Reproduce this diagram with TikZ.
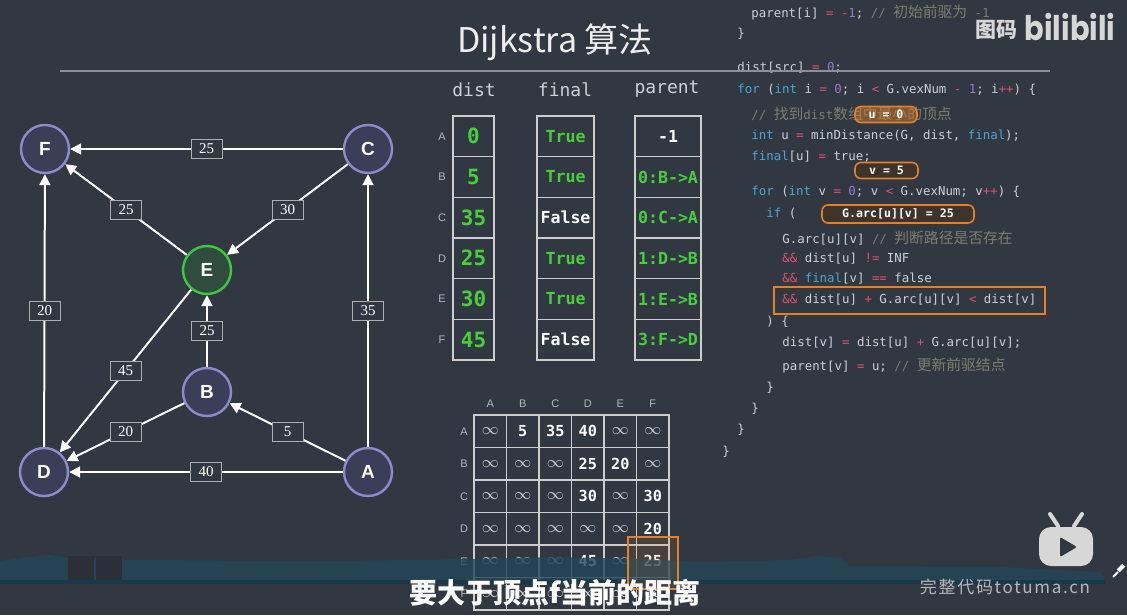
\documentclass[tikz,border=0pt]{standalone}
\usepackage{fontspec}
\setmainfont{Liberation Serif}
\setsansfont{Liberation Sans}
\setmonofont{DejaVu Sans Mono}
\newfontfamily\cjk{Noto Sans CJK SC}
\newfontfamily\widecjk[LetterSpace=10]{Noto Sans CJK SC}
\newfontfamily\bili{Poppins}
\usetikzlibrary{positioning}
\usetikzlibrary{arrows.meta,shapes}
\definecolor{bg}{RGB}{50,56,66}
\definecolor{vfill}{RGB}{58,62,86}
\definecolor{vline}{RGB}{140,140,205}
\definecolor{efill}{RGB}{47,76,62}
\definecolor{egreen}{RGB}{62,200,62}
\definecolor{lblgray}{RGB}{175,175,175}
\definecolor{gridgray}{RGB}{205,205,205}
\definecolor{hit}{RGB}{72,208,60}
\definecolor{codegray}{RGB}{205,208,212}
\definecolor{kwblue}{RGB}{78,165,205}
\definecolor{oppink}{RGB}{222,80,110}
\definecolor{numpurple}{RGB}{150,118,210}
\definecolor{cmgray}{RGB}{125,125,110}
\definecolor{hlorange}{RGB}{228,128,40}
\definecolor{boxbrown}{RGB}{62,52,44}
\definecolor{wave}{RGB}{34,70,88}
\definecolor{rulegray}{RGB}{140,145,152}
\definecolor{lblletter}{RGB}{180,183,188}
\definecolor{tvgray}{RGB}{215,215,215}
\newcommand{\kw}[1]{\textcolor{kwblue}{#1}}
\newcommand{\op}[1]{\textcolor{oppink}{#1}}
\newcommand{\nm}[1]{\textcolor{numpurple}{#1}}
\newcommand{\cm}[1]{\textcolor{cmgray}{#1}}
\newcommand{\zh}[1]{{\cjk\fontsize{7.4}{8}\selectfont #1}}
\newcommand{\inff}{{\color{codegray}\fontsize{8}{8}\selectfont$\infty$}}
\tikzstyle{vertex}=[circle,fill=vfill,draw=vline,line width=1.2pt,minimum size=24pt,inner sep=0pt,text=white,font=\sffamily\bfseries\fontsize{9.5}{10}\selectfont]
\tikzstyle{hotvertex}=[vertex,fill=efill,draw=egreen]
\tikzstyle{edge}=[draw=white,line width=1pt,-{Triangle[length=5.5pt,width=5.5pt]}]
\tikzstyle{weight}=[rectangle,draw=lblgray,line width=0.5pt,fill=bg,text=white,font=\rmfamily\fontsize{7.5}{8}\selectfont,minimum width=15.5pt,minimum height=9.5pt,inner sep=0pt]
\tikzstyle{cell}=[draw=gridgray,line width=0.6pt,minimum height=20.33pt,inner sep=0pt]
\tikzstyle{mcell}=[draw=gridgray,line width=0.6pt,minimum size=16.25pt,inner sep=0pt,text=white,font=\ttfamily\bfseries\fontsize{7.6}{8}\selectfont]
\tikzstyle{header}=[text=codegray,font=\ttfamily\fontsize{9}{9}\selectfont]
\tikzstyle{smalllbl}=[text=lblletter,font=\sffamily\fontsize{5.5}{6}\selectfont]
\tikzstyle{codeline}=[anchor=west,inner sep=0pt,text=codegray,font=\ttfamily\fontsize{6.2}{7}\selectfont]
\tikzstyle{tagbox}=[rounded corners=3pt,draw=hlorange,line width=0.8pt,fill=boxbrown,text=white,font=\ttfamily\bfseries\fontsize{5.8}{6}\selectfont,inner sep=0pt,minimum height=8pt]

\begin{document}
\begin{tikzpicture}[x=0.5pt,y=-0.5pt]
    \useasboundingbox (0,0) rectangle (1127,615);
    \fill[bg] (0,0) rectangle (1127,615);

    % Title and rule
    \node[text=white!92!bg] (title) at (555,42) {\cjk\fontsize{17}{17}\selectfont Dijkstra 算法};

    % First we draw the vertices
    \foreach \pos/\name in {{(45,149)/F}, {(368,149)/C}, {(207,392)/B}, {(44,472)/D}, {(368,472)/A}}
        \node[vertex] (\name) at \pos {\name};
    \node[hotvertex] (E) at (207,270) {E};

    % Connect vertices with edges and draw weights
    \foreach \source/\dest/\weight in {C/F/25, E/F/25, C/E/30, D/F/20, A/C/35, B/E/25, E/D/45, B/D/20, A/B/5, A/D/40}
        \path[edge] (\source) -- node[weight] (w\source\dest) {\weight} (\dest);

    % dist, final, parent arrays
    \node[header] (hdist) at (474,90) {dist};
    \node[header] (hfinal) at (565,90) {final};
    \node[header] (hparent) at (667,89) {parent};
    \foreach \l/\v [count=\i] in {A/0, B/5, C/35, D/25, E/30, F/45} {
        \node[smalllbl] (tl\i) at (442,{116+40.67*(\i-0.5)}) {\l};
        \node[cell,minimum width=20.5pt,text=hit,font=\ttfamily\bfseries\fontsize{10.5}{11}\selectfont] (d\i) at (473.5,{116+40.67*(\i-0.5)}) {\v};
    }
    \foreach \v/\c [count=\i] in {True/hit, True/hit, False/white, True/hit, True/hit, False/white}
        \node[cell,minimum width=28.5pt,text=\c,font=\ttfamily\bfseries\fontsize{8.3}{9}\selectfont] (f\i) at (565.5,{116+40.67*(\i-0.5)}) {\v};
    \foreach \v/\c [count=\i] in {-1/white, 0:B->A/hit, 0:C->A/hit, 1:D->B/hit, 1:E->B/hit, 3:F->D/hit}
        \node[cell,minimum width=33pt,text=\c,font=\ttfamily\bfseries\fontsize{8.3}{9}\selectfont] (p\i) at (668,{116+40.67*(\i-0.5)}) {\v};

    % adjacency matrix
    \foreach \l [count=\j] in {A,B,C,D,E,F} {
        \node[smalllbl] (mc\j) at ({474+32.5*(\j-0.5)},404) {\l};
        \node[smalllbl] (ml\j) at (464,{415+32.5*(\j-0.5)}) {\l};
    }
    \foreach \row [count=\i] in {{\inff,5,35,40,\inff,\inff}, {\inff,\inff,\inff,25,20,\inff}, {\inff,\inff,\inff,30,\inff,30}, {\inff,\inff,\inff,\inff,\inff,20}, {\inff,\inff,\inff,45,\inff,25}, {\inff,\inff,\inff,\inff,\inff,\inff}}
        \foreach \v [count=\j] in \row
            \node[mcell] (m\i\j) at ({474+32.5*(\j-0.5)},{415+32.5*(\i-0.5)}) {\v};

    % code panel
    \node[codeline] (c1) at (751,13) {parent[i] \op{=} \op{-}\nm{1}; \cm{// \zh{初始前驱为} -1}};
    \node[codeline] (c2) at (737,34) {\}};
    \node[codeline] (c3) at (737,68) {dist[src] \op{=} \nm{0};};
    \node[codeline] (c4) at (737,90) {\kw{for} (\kw{int} i \op{=} \nm{0}; i \op{<} G.vexNum \op{-} \nm{1}; i\op{++}) \{};
    \node[codeline] (c5) at (751,114) {\cm{// \zh{找到}dist\zh{数组中最小的顶点}}};
    \node[codeline] (c6) at (751,136) {\kw{int} u \op{=} minDistance(G, dist, \kw{final});};
    \node[codeline] (c7) at (751,157) {\kw{final}[u] \op{=} true;};
    \node[codeline] (c8) at (751,192) {\kw{for} (\kw{int} v \op{=} \nm{0}; v \op{<} G.vexNum; v\op{++}) \{};
    \node[codeline] (c9) at (766,214) {\kw{if} (};
    \node[codeline] (c10) at (782,238) {G.arc[u][v] \cm{// \zh{判断路径是否存在}}};
    \node[codeline] (c11) at (782,259) {\op{\&\&} dist[u] \op{!=} INF};
    \node[codeline] (c12) at (782,279) {\op{\&\&} \kw{final}[v] \op{==} false};
    \node[codeline] (c13) at (782,300) {\op{\&\&} dist[u] \op{+} G.arc[u][v] \op{<} dist[v]};
    \node[codeline] (c14) at (766,322) {) \{};
    \node[codeline] (c15) at (782,343) {dist[v] \op{=} dist[u] \op{+} G.arc[u][v];};
    \node[codeline] (c16) at (782,366) {parent[v] \op{=} u; \cm{// \zh{更新前驱结点}}};
    \node[codeline] (c17) at (766,388) {\}};
    \node[codeline] (c18) at (751,409) {\}};
    \node[codeline] (c19) at (737,430) {\}};
    \node[codeline] (c20) at (722,452) {\}};

    % watch tags
    \node[tagbox,fill=hlorange,fill opacity=0.45,text opacity=1,minimum width=31pt] (ubox) at (886,114.5) {u = 0};
    \node[tagbox,minimum width=31.5pt] (vbox) at (886.5,170.5) {v = 5};
    \node[tagbox,minimum width=76pt,minimum height=9pt] (arcbox) at (898,214) {G.arc[u][v] = 25};
    \draw[hlorange,line width=0.8pt] (774,287) rectangle (1045,314);

    \draw[rulegray,line width=0.6pt] (60,71) -- (1050,71);

    % logo
    \node[text=tvgray] (logo1) at (996,30) {\cjk\bfseries\fontsize{10.5}{11}\selectfont 图码};
    \node[text=tvgray] (logo2) at (1070,27) {\bili\bfseries\fontsize{17}{17}\selectfont\scalebox{0.85}[1]{bilibili}};

    % bottom wave band
    \fill[wave,opacity=0.8] (0,580) -- (0,561) -- (30,557) -- (50,555) -- (70,558) -- (140,560) -- (300,561) -- (420,560) -- (560,557) -- (640,559) -- (700,562) -- (790,560) -- (815,556) -- (840,558) -- (850,566) -- (1000,567) -- (1100,572) -- (1105,580) -- cycle;
    \fill[wave!80!black] (0,580) rectangle (1105,584);
    \fill[bg!85!black] (68,556) rectangle (94,580);
    \fill[bg!85!black] (96,556) rectangle (122,580);

    \draw[hlorange,line width=0.8pt,fill=hlorange,fill opacity=0.12] (628,537) rectangle (678,589);

    % player icons
    \fill[tvgray,rounded corners=6pt] (1039,527) rectangle (1093,566);
    \fill[bg,rounded corners=1pt] (1060,537) -- (1060,557) -- (1077,547) -- cycle;
    \draw[tvgray,line width=2pt,line cap=round] (1058,526) -- (1050,514);
    \draw[tvgray,line width=2pt,line cap=round] (1074,526) -- (1082,514);
    \draw[white,line width=1pt] (1113,577) -- (1118,572);
    \fill[white,rotate around={45:(1121,568)}] (1117,566) rectangle (1125,570);

    \node[text=lblletter] (site) at (1005,587) {\widecjk\fontsize{8.5}{9}\selectfont 完整代码totuma.cn};
    \node[text=white] (sub) at (555,593) {\cjk\bfseries\fontsize{14}{14}\selectfont 要大于顶点f当前的距离};
\end{tikzpicture}
\end{document}
